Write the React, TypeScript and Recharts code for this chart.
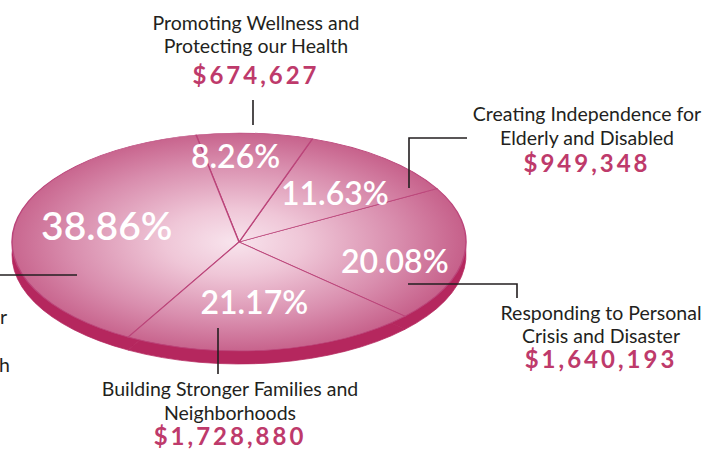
import React from 'react';
import { PieChart, Pie, Cell } from 'recharts';

// ---------- data ----------
const categories = [
  'Responding to Personal Crisis and Disaster',
  'Creating Independence for Elderly and Disabled',
  'Promoting Wellness and Protecting our Health',
  'Investing in the Future of our Children and Youth',
  'Building Stronger Families and Neighborhoods',
];
const amounts = [1640193, 949348, 674627, 3173534, 1728880];
const percentLabels = ['20.08%', '11.63%', '8.26%', '38.86%', '21.17%'];
const amountLabels = ['$1,640,193', '$949,348', '$674,627', '$3,173,534', '$1,728,880'];
const nameLines = [
  ['Responding to Personal', 'Crisis and Disaster'],
  ['Creating Independence for', 'Elderly and Disabled'],
  ['Promoting Wellness and', 'Protecting our Health'],
  ['Investing in the Future of our', 'Community\u2019s Children', 'and Fostering Healthy Growth'],
  ['Building Stronger Families and', 'Neighborhoods'],
];

const data = categories.map((name, i) => ({ name, value: amounts[i] }));

// ---------- layout ----------
const W = 704;
const H = 450;
const CX = 239;
const CY = 242;
const R = 227;
const TILT = 0.48;
const DEPTH = 13;
const START = -43;

const FONT = 'Lato, "Open Sans", sans-serif';
const INK = '#231f20';
const PINK_TEXT = '#be3a6b';

const PCT_LAYOUT = [
  { k: 0.7, dx: -2, dy: 9, size: 32 },
  { k: 0.66, dx: 0, dy: 6, size: 32 },
  { k: 0.8, dx: -16, dy: 0, size: 32 },
  { k: 0.59, dx: 0, dy: -7, size: 39 },
  { k: 0.55, dx: -4, dy: 0, size: 32 },
];

// tx: centre of text; end: per-line x with end anchoring (left callout cut by the page edge)
const CALLOUTS: any[] = [
  { idx: 0, tx: 601, ty: [320, 343, 368], line: [[408, 284], [517, 284], [517, 298]] },
  { idx: 1, tx: 587, ty: [121, 145, 172], line: [[409, 188], [409, 138], [467, 138]] },
  { idx: 2, tx: 256, ty: [30, 53, 84], line: [[253, 100], [253, 125]] },
  { idx: 3, tx: -120, end: [7, -30, 10, -40], ty: [324, 348, 372, 398], line: [[0, 275], [77, 275]] },
  { idx: 4, tx: 230, ty: [396, 420, 445], line: [[218, 328], [218, 374]] },
];

const renderPct = (props: any) => {
  const { cx, cy, midAngle, outerRadius, index } = props;
  const L = PCT_LAYOUT[index];
  const rad = (midAngle * Math.PI) / 180;
  const x = cx + outerRadius * L.k * Math.cos(rad) + L.dx;
  const y = cy - outerRadius * L.k * Math.sin(rad) * TILT + L.dy;
  return (
    <text
      key={`pct-${index}`}
      x={x}
      y={y}
      textAnchor="middle"
      dominantBaseline="central"
      fill="#ffffff"
      fontFamily={FONT}
      fontSize={L.size}
      fontWeight={600}
    >
      {percentLabels[index]}
    </text>
  );
};

export default function App() {
  return (
    <div style={{ position: 'absolute', left: 0, top: 0, width: W, height: H, background: '#fff', overflow: 'hidden' }}>
      {/* pie layer, flattened into an ellipse */}
      <div
        style={{
          position: 'absolute',
          left: 0,
          top: 0,
          width: W,
          height: H,
          transform: `scaleY(${TILT})`,
          transformOrigin: `0px ${CY}px`,
        }}
      >
        <PieChart width={W} height={H + 200} margin={{ top: 0, right: 0, bottom: 0, left: 0 }}>
          <defs>
            <radialGradient id="faceGrad" gradientUnits="userSpaceOnUse" cx={CX - 5} cy={CY} r={R + 5}>
              <stop offset="0" stopColor="#f8e4ed" />
              <stop offset="0.3" stopColor="#efc6d7" />
              <stop offset="0.7" stopColor="#d98eae" />
              <stop offset="1" stopColor="#c6608a" />
            </radialGradient>
          </defs>
          <Pie
            data={data}
            dataKey="value"
            nameKey="name"
            cx={CX}
            cy={CY + DEPTH / TILT}
            innerRadius={0}
            outerRadius={R}
            startAngle={START}
            endAngle={START + 360}
            label={false}
            labelLine={false}
            isAnimationActive={false}
          >
            {data.map((d, i) => (
              <Cell key={`rim-${i}`} fill="#b5275e" stroke="#b5275e" strokeWidth={1} />
            ))}
          </Pie>
          <Pie
            data={data}
            dataKey="value"
            nameKey="name"
            cx={CX}
            cy={CY}
            innerRadius={0}
            outerRadius={R}
            startAngle={START}
            endAngle={START + 360}
            label={false}
            labelLine={false}
            isAnimationActive={false}
          >
            {data.map((d, i) => (
              <Cell key={`face-${i}`} fill="url(#faceGrad)" stroke="#bb457a" strokeWidth={1.5} />
            ))}
          </Pie>
        </PieChart>
      </div>
      {/* label layer */}
      <div style={{ position: 'absolute', left: 0, top: 0, width: W, height: H }}>
        <PieChart width={W} height={H} margin={{ top: 0, right: 0, bottom: 0, left: 0 }}>
          <Pie
            data={data}
            dataKey="value"
            nameKey="name"
            cx={CX}
            cy={CY}
            innerRadius={0}
            outerRadius={R}
            startAngle={START}
            endAngle={START + 360}
            fill="none"
            stroke="none"
            label={renderPct}
            labelLine={false}
            isAnimationActive={false}
          >
            {data.map((d, i) => (
              <Cell key={`lbl-${i}`} fill="none" stroke="none" />
            ))}
          </Pie>
          <g>
            {CALLOUTS.map((c) => {
              const lines: string[] = nameLines[c.idx];
              return (
                <g key={`call-${c.idx}`}>
                  <polyline
                    points={c.line.map((p: number[]) => p.join(',')).join(' ')}
                    fill="none"
                    stroke={INK}
                    strokeWidth={1.6}
                  />
                  {lines.map((t, j) => (
                    <text
                      key={j}
                      x={c.end ? c.end[j] : c.tx}
                      y={c.ty[j]}
                      textAnchor={c.end ? 'end' : 'middle'}
                      fill={INK}
                      fontFamily={FONT}
                      fontSize={19.5}
                    >
                      {t}
                    </text>
                  ))}
                  <text
                    x={c.end ? c.end[lines.length] : c.tx}
                    y={c.ty[lines.length]}
                    textAnchor={c.end ? 'end' : 'middle'}
                    fill={PINK_TEXT}
                    fontFamily={FONT}
                    fontSize={24}
                    fontWeight={700}
                    letterSpacing={3}
                  >
                    {amountLabels[c.idx]}
                  </text>
                </g>
              );
            })}
          </g>
        </PieChart>
      </div>
    </div>
  );
}
